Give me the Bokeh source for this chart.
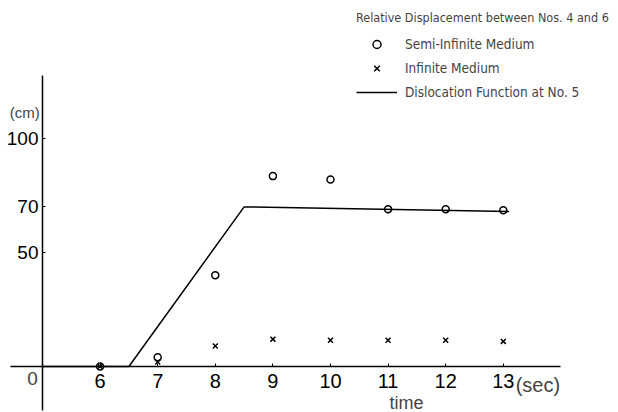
from bokeh.plotting import figure
from bokeh.models import Legend, LegendItem, Label, FixedTicker, Range1d
from bokeh.embed import file_html
from bokeh.resources import INLINE

# ---- data ----
time = [6, 7, 8, 9, 10, 11, 12, 13]
semi_infinite = [0, 4, 40, 83.5, 82, 69, 69, 68.5]
infinite = [0, 2, 9, 12, 11.5, 11.5, 11.5, 11]
disloc_t = [5, 6.5, 8.5, 13.1]
disloc_v = [0, 0, 70, 68]
x_ticks = [6, 7, 8, 9, 10, 11, 12, 13]
y_ticks = [50, 70, 100]

SANS = "Liberation Sans, Arial, sans-serif"
NARROW = "Liberation Sans Narrow, DejaVu Sans Condensed, sans-serif"

p = figure(width=618, height=412,
           x_range=Range1d(4.2708, 15.0), y_range=Range1d(-20.18, 160.53),
           output_backend="svg", toolbar_location=None,
           min_border_left=0, min_border_right=0,
           min_border_top=0, min_border_bottom=0)
p.outline_line_color = None
p.grid.visible = False
p.background_fill_color = "white"

# axes crossing at (5, 0)
p.xaxis.fixed_location = 0
p.yaxis.fixed_location = 5
p.xaxis.bounds = (4.444, 13.993)
p.yaxis.bounds = (-19.3, 127.6)
for ax in (p.xaxis, p.yaxis):
    ax.axis_line_color = "black"
    ax.axis_line_width = 1.5
    ax.major_tick_in = 3
    ax.major_tick_out = 0
    ax.minor_tick_line_color = None
    ax.major_tick_line_color = "black"
    ax.major_label_text_color = "black"
    ax.major_label_text_font = SANS
p.xaxis.ticker = FixedTicker(ticks=x_ticks, minor_ticks=[])
p.yaxis.ticker = FixedTicker(ticks=y_ticks, minor_ticks=[])
p.xaxis.major_label_text_font_size = "20px"
p.yaxis.major_label_text_font_size = "19px"
p.xaxis.major_label_standoff = 8
p.yaxis.major_label_standoff = 4

# data
r_line = p.line(disloc_t, disloc_v, line_color="black", line_width=1.5)
r_semi = p.scatter(time, semi_infinite, marker="circle", size=7,
                   fill_color=None, line_color="black", line_width=1.5)
r_inf = p.scatter(time, infinite, marker="x", size=7,
                  line_color="black", line_width=1.5)

legend = Legend(items=[
    LegendItem(label="Semi-Infinite Medium", renderers=[r_semi]),
    LegendItem(label="Infinite Medium", renderers=[r_inf]),
    LegendItem(label="Dislocation Function at No. 5", renderers=[r_line]),
], title="Relative Displacement between Nos. 4 and 6", location=(356, 310))
legend.title_text_font = NARROW
legend.title_text_font_size = "12.5px"
legend.title_text_font_style = "normal"
legend.title_standoff = 9
legend.label_text_font = NARROW
legend.label_text_font_size = "13.5px"
legend.glyph_width = 41
legend.glyph_height = 20
legend.label_height = 20
legend.label_standoff = 8
legend.spacing = 4
legend.padding = 0
legend.margin = 0
legend.border_line_color = None
legend.background_fill_alpha = 0
p.add_layout(legend)

p.add_layout(Label(x=13.6, y=0, y_offset=-8, text="(sec)", text_align="center",
                   text_baseline="top", text_font=SANS, text_font_size="20px"))
p.add_layout(Label(x=11.32, y=0, y_offset=-27, text="time", text_align="center",
                   text_baseline="top", text_font=SANS, text_font_size="18px"))
p.add_layout(Label(x=4.69, y=111.4, text="(cm)", text_align="center",
                   text_baseline="middle", text_font=SANS, text_font_size="15px"))
p.add_layout(Label(x=5, y=0, x_offset=-10, y_offset=-6, text="0", text_align="center",
                   text_baseline="top", text_font=SANS, text_font_size="19px"))

open("out.html", "w").write(file_html(p, INLINE))
